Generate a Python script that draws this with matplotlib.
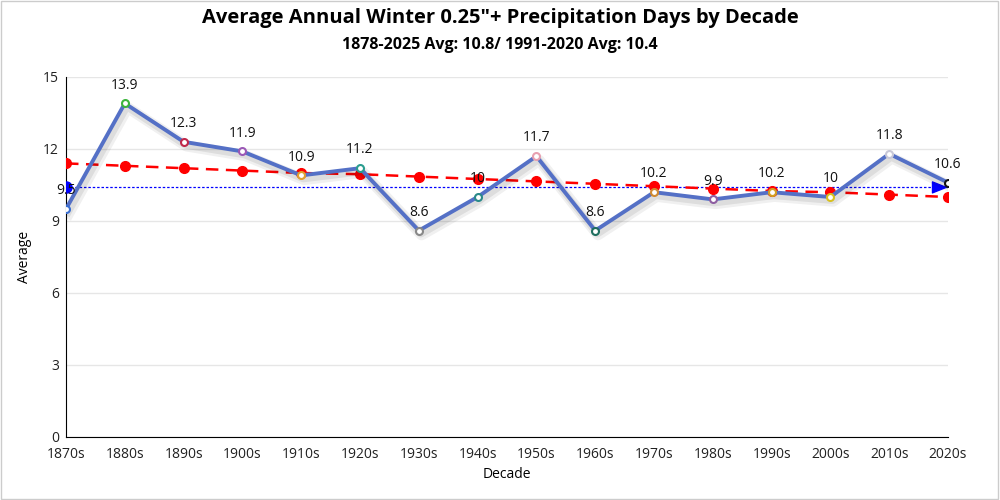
import matplotlib
matplotlib.use("Agg")
import matplotlib.pyplot as plt
import matplotlib.patheffects as pe

decades = ["1870s","1880s","1890s","1900s","1910s","1920s","1930s","1940s","1950s","1960s",
           "1970s","1980s","1990s","2000s","2010s","2020s"]
averages = [9.5, 13.9, 12.3, 11.9, 10.9, 11.2, 8.6, 10, 11.7, 8.6, 10.2, 9.9, 10.2, 10, 11.8, 10.6]
trend = [11.4, 11.3, 11.2, 11.1, 11.0, 10.95, 10.85, 10.75, 10.65, 10.55, 10.45, 10.35, 10.25, 10.2, 10.1, 10.0]
normal_avg = 10.4
marker_colors = ["#3b6fd1","#3cb53c","#c0284a","#9b59b6","#e0a030","#2a9d8f","#888888","#2a8a8a",
                 "#e8a0b0","#1f6f5f","#d08a30","#8e5ea2","#d4a020","#d8c020","#c8c8d8","#111111"]

plt.rcParams['font.family'] = ['Open Sans', 'DejaVu Sans']

fig = plt.figure(figsize=(10, 5), dpi=100)
fig.patch.set_facecolor("white")
fig.add_artist(plt.Rectangle((0.001, 0.002), 0.997, 0.996, transform=fig.transFigure,
                             fill=False, edgecolor="#cccccc", linewidth=1))
ax = fig.add_axes([0.066, 0.126, 0.882, 0.72])
x = list(range(len(decades)))

# normal line
ax.plot(x, [normal_avg]*len(x), color="#0000ff", linestyle=(0, (2, 1.5)), linewidth=0.9, zorder=2)
ax.plot([x[0]], [normal_avg], 'o', color="#0000ff", markersize=8, zorder=3)
ax.annotate("", xy=(x[-1], normal_avg), xytext=(x[-1]-0.25, normal_avg),
            arrowprops=dict(arrowstyle="-|>,head_length=1.0,head_width=0.4", color="#0000ff", lw=0.9,
                            shrinkA=0, shrinkB=0), zorder=3)

# trend
ax.plot(x, trend, color="red", linestyle=(0, (5, 3)), linewidth=1.8, zorder=3,
        marker='o', markersize=7, markerfacecolor="red", markeredgecolor="red")

# main line
ax.plot(x, averages, color="#5470c6", linewidth=2.8, zorder=4,
        path_effects=[pe.SimpleLineShadow(offset=(2, -3), alpha=0.06, shadow_color="black", linewidth=8),
                      pe.SimpleLineShadow(offset=(1.5, -2.5), alpha=0.08, shadow_color="black", linewidth=5),
                      pe.Normal()])
for xi, v, c in zip(x, averages, marker_colors):
    ax.plot([xi], [v], 'o', markersize=5, markerfacecolor="white", markeredgecolor=c,
            markeredgewidth=1.5, zorder=5)
    ax.text(xi, v + 0.45, f"{v:g}", ha="center", va="bottom", fontsize=10, color="#111111", zorder=6)

ax.set_xlim(0, len(x) - 1)
ax.set_ylim(0, 15)
ax.set_yticks([0, 3, 6, 9, 12, 15])
ax.set_xticks(x)
ax.set_xticklabels(decades)
ax.tick_params(axis="y", labelsize=10, colors="#222222", length=0, pad=5)
ax.tick_params(axis="x", labelsize=10, colors="#222222", length=0, pad=7)
ax.grid(axis="y", color="#e6e6e6", linewidth=1)
ax.set_axisbelow(True)
for s in ["top", "right"]:
    ax.spines[s].set_visible(False)
ax.spines["left"].set_color("black")
ax.spines["bottom"].set_color("black")
ax.set_xlabel("Decade", fontsize=10, labelpad=4)
ax.set_ylabel("Average", fontsize=10, labelpad=8)

fig.text(0.5, 0.964, 'Average Annual Winter 0.25"+ Precipitation Days by Decade', ha="center", va="center",
         fontsize=14.5, fontweight="bold")
fig.text(0.5, 0.91, "1878-2025 Avg: 10.8/ 1991-2020 Avg: 10.4", ha="center", va="center",
         fontsize=11.5, fontweight="bold")

fig.savefig("out.png", dpi=100)
